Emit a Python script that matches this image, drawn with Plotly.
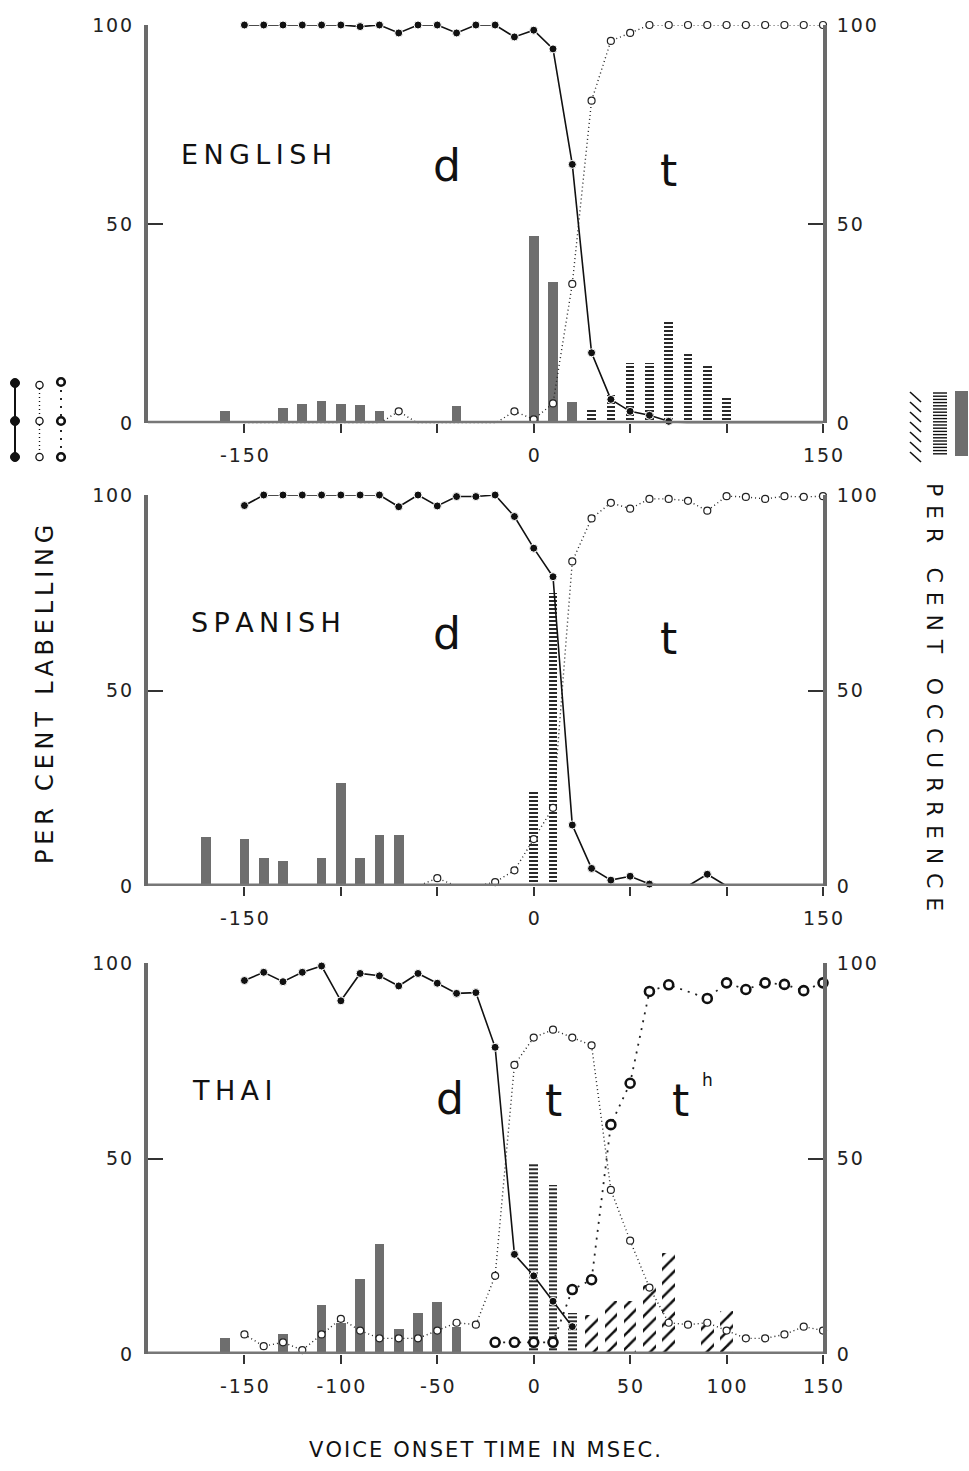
import plotly.graph_objects as go

# ---------------- DATA ----------------
# English
eng_d_x = list(range(-150, 160, 10))
eng_d = [100, 100, 100, 100, 100, 100, 99.6, 100, 98, 100, 100, 98, 100, 100, 97, 98.7, 94, 65, 17.7, 6, 3, 2, 0.5,
         0, 0, 0, 0, 0, 0, 0, 0]
eng_t_x = list(range(-150, 160, 10))
eng_t = [0, 0, 0, 0, 0, 0, 0, 0, 3, 0, 0, 0, 0, 0, 3, 1, 5, 35, 81, 96, 98, 100, 100, 100, 100, 100, 100, 100, 100,
         100, 100]
eng_solid_x = [-160, -130, -120, -110, -100, -90, -80, -40, 0, 10, 20]
eng_solid = [3.2, 3.8, 4.8, 5.6, 4.8, 4.6, 3.2, 4.4, 47, 35.6, 5.4]
eng_lined_x = [30, 40, 50, 60, 70, 80, 90, 100]
eng_lined = [3.8, 7, 15.2, 15.2, 26, 18, 14.4, 6.4]

# Spanish
spa_d_x = list(range(-150, 160, 10))
spa_d = [97.3, 100, 100, 100, 100, 100, 100, 100, 97, 100, 97.2, 99.6, 99.6, 100, 94.5, 86.4, 79.1,
         15.6, 4.5, 1.5, 2.5, 0.5, 0, 0, 3, 0, 0, 0, 0, 0, 0]
spa_t_x = list(range(-150, 160, 10))
spa_t = [0, 0, 0, 0, 0, 0, 0, 0, 0, 0, 2, 0, 0, 1, 4, 12, 20, 83, 94, 98, 96.5, 99, 99, 98.5, 96, 99.7, 99.5, 99,
         99.7, 99.5, 99.7]
spa_solid_x = [-170, -150, -140, -130, -110, -100, -90, -80, -70]
spa_solid = [12.6, 11.9, 7.1, 6.5, 7.2, 26.3, 7.1, 13, 13]
spa_lined_x = [0, 10]
spa_lined = [24.6, 74.9]

# Thai
thai_d_x = list(range(-150, 30, 10))
thai_d = [95.6, 97.7, 95.3, 97.7, 99.3, 90.4, 97.4, 96.8, 94.2, 97.4, 94.9, 92.3, 92.5, 78.5, 25.5, 20, 13.5, 7]
thai_t_x = list(range(-150, 160, 10))
thai_t = [5, 2, 3, 1, 5, 9, 6, 4, 4, 4, 6, 8, 7.5, 20, 74, 81, 83, 81, 79, 42, 29, 17, 8, 7.5, 8, 6, 4, 4, 5, 7, 6]
thai_th_x = [-20, -10, 0, 10, 20, 30, 40, 50, 60, 70, 90, 100, 110, 120, 130, 140, 150]
thai_th = [3, 3, 3, 3, 16.5, 19, 58.7, 69.3, 92.8, 94.5, 91, 95, 93.3, 95, 94.6, 93, 95]
thai_solid_x = [-160, -130, -110, -100, -90, -80, -70, -60, -50, -40]
thai_solid = [4.1, 5, 12.4, 7.9, 19.2, 28.2, 6.2, 10.3, 13.2, 6.9]
thai_lined_x = [0, 10, 20]
thai_lined = [48.8, 43.3, 10.5]
thai_hatch_x = [30, 40, 50, 60, 70, 90, 100]
thai_hatch = [10, 13.5, 13.5, 17.7, 25.8, 8, 11]

x_ticks = [-150, -100, -50, 0, 50, 100, 150]
x_ticktext_sparse = ["-150", "", "", "0", "", "", "150"]
x_ticktext_full = ["-150", "-100", "-50", "0", "50", "100", "150"]
y_ticks = [0, 50, 100]
y_ticktext = ["0", "50", "100"]

# ---------------- LAYOUT GEOMETRY ----------------
W, H = 969, 1471
ML, MR, MT, MB = 148, 146, 25, 117
PW = W - ML - MR
PH = H - MT - MB
FONT = "DejaVu Sans"
INK = "#111111"
AXC = "#6a6a6a"
BARC = "#6e6e6e"


def pxx(px):
    return (px - ML) / PW


def pxy(py):
    return (H - MB - py) / PH


def sp(s, sep="\u2009"):
    return sep.join(list(s))


def msize(vals, s):
    # points lying on the baseline are hidden under the thick axis in the original
    return [s if v > 0 else 0 for v in vals]


panels_px = [(25, 423.3), (495, 886), (963.3, 1354)]
domains = [[pxy(b), pxy(t)] for t, b in panels_px]

fig = go.Figure()

panel_data = [
    dict(d=(eng_d_x, eng_d), t=(eng_t_x, eng_t), th=None,
         solid=(eng_solid_x, eng_solid), lined=(eng_lined_x, eng_lined), hatch=None),
    dict(d=(spa_d_x, spa_d), t=(spa_t_x, spa_t), th=None,
         solid=(spa_solid_x, spa_solid), lined=(spa_lined_x, spa_lined), hatch=None),
    dict(d=(thai_d_x, thai_d), t=(thai_t_x, thai_t), th=(thai_th_x, thai_th),
         solid=(thai_solid_x, thai_solid), lined=(thai_lined_x, thai_lined), hatch=(thai_hatch_x, thai_hatch)),
]

for i, pdat in enumerate(panel_data):
    n = i + 1
    xa = "x" if n == 1 else f"x{n}"
    ya = "y" if n == 1 else f"y{n}"
    yr = f"y{n + 3}"
    # bars on the left (base) axis
    sx, sy = pdat["solid"]
    fig.add_trace(go.Bar(x=sx, y=sy, width=5, xaxis=xa, yaxis=ya,
                         marker=dict(color=BARC, line=dict(width=0))))
    lx, ly = pdat["lined"]
    fig.add_trace(go.Bar(x=lx, y=ly, width=4.5, xaxis=xa, yaxis=ya,
                         marker=dict(color="white", line=dict(width=0),
                                     pattern=dict(shape="-", fgcolor="#111", bgcolor="white",
                                                  size=4, solidity=0.45, fillmode="replace"))))
    if pdat["hatch"]:
        hx, hy = pdat["hatch"]
        fig.add_trace(go.Bar(x=hx, y=hy, width=6.5, xaxis=xa, yaxis=ya,
                             marker=dict(color="white", line=dict(width=0),
                                         pattern=dict(shape="/", fgcolor="#111", bgcolor="white",
                                                      size=10, solidity=0.25, fillmode="replace"))))
    # labelling curves on the overlay (right) axis
    tx, ty = pdat["t"]
    fig.add_trace(go.Scatter(x=tx, y=ty, mode="lines+markers", xaxis=xa, yaxis=yr, cliponaxis=False,
                             line=dict(color="#222", width=1.4, dash="1px,3px"),
                             marker=dict(symbol="circle", size=msize(ty, 7), color="white", opacity=1,
                                         line=dict(color="#222", width=1.2))))
    if pdat["th"]:
        hx, hy = pdat["th"]
        fig.add_trace(go.Scatter(x=hx, y=hy, mode="lines+markers", xaxis=xa, yaxis=yr, cliponaxis=False,
                                 line=dict(color="#222", width=1.8, dash="2px,6px"),
                                 marker=dict(symbol="circle", size=msize(hy, 9), color="white", opacity=1,
                                             line=dict(color="#111", width=2.6))))
    dx, dy = pdat["d"]
    fig.add_trace(go.Scatter(x=dx, y=dy, mode="lines+markers", xaxis=xa, yaxis=yr, cliponaxis=False,
                             line=dict(color=INK, width=1.6),
                             marker=dict(symbol="circle", size=msize(dy, 8), color=INK, opacity=1)))

layout = dict(
    width=W, height=H, margin=dict(l=ML, r=MR, t=MT, b=MB),
    paper_bgcolor="white", plot_bgcolor="white",
    showlegend=False, barmode="overlay", bargap=0,
    font=dict(family=FONT, color=INK),
)

for i in range(3):
    n = i + 1
    xkey = "xaxis" if n == 1 else f"xaxis{n}"
    ykey = "yaxis" if n == 1 else f"yaxis{n}"
    yrkey = f"yaxis{n + 3}"
    xa_anchor = "y" if n == 1 else f"y{n}"
    x_name = "x" if n == 1 else f"x{n}"
    ya_name = "y" if n == 1 else f"y{n}"
    layout[xkey] = dict(
        domain=[0, 1], anchor=xa_anchor, range=[-200, 150],
        showline=False, showgrid=False, zeroline=False,
        ticks="outside", ticklen=9, tickwidth=2, tickcolor="#333",
        tickvals=x_ticks,
        ticktext=[sp(t, "\u200a") for t in (x_ticktext_full if n == 3 else x_ticktext_sparse)],
        tickfont=dict(size=19, color="#222", family=FONT), ticklabelstandoff=6,
    )
    layout[ykey] = dict(
        domain=domains[i], anchor=x_name, range=[0, 100],
        showline=True, linecolor=AXC, linewidth=4, showgrid=False, zeroline=False,
        ticks="inside", ticklen=15, tickwidth=2, tickcolor="#333",
        tickvals=y_ticks, ticktext=[sp(t, "\u200a") for t in y_ticktext],
        tickfont=dict(size=19, color="#222", family=FONT), ticklabelstandoff=8,
    )
    layout[yrkey] = dict(
        overlaying=ya_name, anchor=x_name, side="right", range=[0, 100],
        showline=True, linecolor=AXC, linewidth=4, showgrid=False, zeroline=False,
        ticks="inside", ticklen=15, tickwidth=2, tickcolor="#333",
        tickvals=y_ticks, ticktext=[sp(t, "\u200a") for t in y_ticktext],
        tickfont=dict(size=19, color="#222", family=FONT), ticklabelstandoff=6,
    )

fig.update_layout(**layout)

shapes = []
# thick baselines drawn above traces
for i in range(3):
    n = i + 1
    x_name = "x" if n == 1 else f"x{n}"
    ya_name = "y" if n == 1 else f"y{n}"
    shapes.append(dict(type="line", xref=x_name, yref=ya_name, x0=-200, x1=150, y0=0, y1=0,
                       line=dict(color="#777", width=5), layer="above"))


def circ(cx, cy, r, fill, lw, lc="#111"):
    return dict(type="circle", xref="paper", yref="paper", xsizemode="pixel", ysizemode="pixel",
                xanchor=pxx(cx), yanchor=pxy(cy), x0=-r, x1=r, y0=-r, y1=r,
                fillcolor=fill, line=dict(color=lc, width=lw), layer="above")


def seg(x0, y0, x1, y1, w, c="#111", dash="solid"):
    return dict(type="line", xref="paper", yref="paper", x0=pxx(x0), x1=pxx(x1), y0=pxy(y0), y1=pxy(y1),
                line=dict(color=c, width=w, dash=dash), layer="above")


# left legend (labelling symbols)
shapes.append(seg(15, 383, 15, 457, 2))
for yy in (383, 421, 457):
    shapes.append(circ(15, yy, 4.5, "#111", 1))
shapes.append(seg(39.5, 385, 39.5, 457, 1.4, dash="1px,3px"))
for yy in (385, 421, 457):
    shapes.append(circ(39.5, yy, 3.6, "white", 1.3))
shapes.append(seg(61, 382, 61, 457, 1.8, dash="2px,6px"))
for yy in (382, 421, 457):
    shapes.append(circ(61, yy, 3.8, "white", 2.6))

# right legend (occurrence swatches)
shapes.append(dict(type="rect", xref="paper", yref="paper", x0=pxx(955), x1=pxx(968), y0=pxy(456), y1=pxy(391),
                   fillcolor=BARC, line=dict(width=0), layer="above"))
yy = 393
while yy <= 456:
    shapes.append(seg(933, yy, 947, yy, 1.4))
    yy += 3.2
yy = 392
while yy <= 452:
    shapes.append(seg(910, yy, 921, yy + 10, 1.6))
    yy += 10

fig.update_layout(shapes=shapes)

ann = []


def txt(text, x, y, size, xanchor="center", angle=0, color=INK):
    ann.append(dict(text=text, x=pxx(x), y=pxy(y), xref="paper", yref="paper", showarrow=False,
                    xanchor=xanchor, yanchor="middle", textangle=angle,
                    font=dict(size=size, family=FONT, color=color)))


txt(sp("ENGLISH"), 179, 155, 27, xanchor="left")
txt("d", 447, 166, 44)
txt("t", 668, 170, 44)
txt(sp("SPANISH"), 189, 622, 27, xanchor="left")
txt("d", 447, 634, 44)
txt("t", 668, 638, 44)
txt(sp("THAI"), 190, 1090, 27, xanchor="left")
txt("d", 450, 1098, 44)
txt("t", 553, 1100, 44)
txt("t", 680, 1100, 44)
txt("h", 707, 1080, 17)
txt(sp("VOICE ONSET TIME IN MSEC.", "\u200a"), 485, 1450, 21)
txt(sp("PER CENT LABELLING"), 45, 695, 24, angle=-90)
txt(sp("PER CENT OCCURRENCE", "\u2009\u2009"), 935, 697, 22, angle=90)

fig.update_layout(annotations=ann)

fig.write_html("out.html")
